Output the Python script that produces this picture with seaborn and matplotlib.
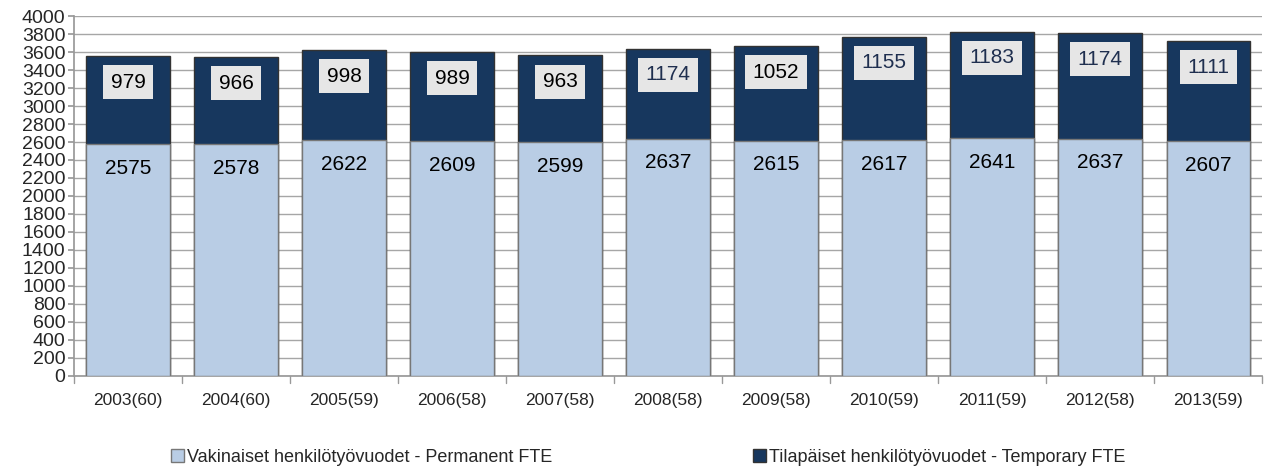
import matplotlib
matplotlib.use("Agg")
import matplotlib.pyplot as plt
import seaborn as sns
import numpy as np
import pandas as pd

categories = ["2003(60)", "2004(60)", "2005(59)", "2006(58)", "2007(58)", "2008(58)",
              "2009(58)", "2010(59)", "2011(59)", "2012(58)", "2013(59)"]
permanent = [2575, 2578, 2622, 2609, 2599, 2637, 2615, 2617, 2641, 2637, 2607]
# bar heights as drawn in the picture (2008 bar is drawn shorter than its label)
temporary = [979, 966, 998, 989, 963, 1000, 1052, 1155, 1183, 1174, 1111]
temporary_labels = ["979", "966", "998", "989", "963", "1174", "1052", "1155", "1183", "1174", "1111"]
perm_label = "Vakinaiset henkilötyövuodet - Permanent FTE"
temp_label = "Tilapäiset henkilötyövuodet - Temporary FTE"

light = "#b9cde5"
dark = "#17375e"

sns.set_theme(style="white")
plt.rcParams['font.family'] = ['Liberation Sans', 'DejaVu Sans']

df = pd.DataFrame({"cat": categories, "perm": permanent, "temp": temporary})
df["total"] = df["perm"] + df["temp"]

fig = plt.figure(figsize=(12.64, 4.68), dpi=100)
ax = fig.add_axes([0.0585, 0.1966, 0.94, 0.7692])

sns.barplot(data=df, x="cat", y="total", color=dark, saturation=1, width=0.77,
            edgecolor="#333333", linewidth=1.0, ax=ax, label=temp_label, zorder=2)
sns.barplot(data=df, x="cat", y="perm", color=light, saturation=1, width=0.77,
            edgecolor="#777777", linewidth=1.0, ax=ax, label=perm_label, zorder=3)
handles, labels = ax.get_legend_handles_labels()
if ax.get_legend() is not None:
    ax.get_legend().remove()

ax.set_ylim(0, 4000)
ax.set_xlim(-0.5, len(categories) - 0.5)
ax.set_yticks(np.arange(0, 4001, 200))
ax.yaxis.grid(True, color="#a6a6a6", linewidth=1.0, zorder=0)
ax.set_axisbelow(True)
for s in ["top", "right"]:
    ax.spines[s].set_visible(False)
ax.spines["left"].set_color("#999999")
ax.spines["bottom"].set_color("#999999")
ax.set_xlabel("")
ax.set_ylabel("")
ax.tick_params(axis="y", labelsize=14, pad=2, length=4, color="#999999", direction="out", left=True)
ax.tick_params(axis="x", labelsize=12.5, pad=12, length=0)

# category boundary ticks below axis
for b in np.arange(-0.5, len(categories), 1.0):
    ax.plot([b, b], [0, -80], color="#999999", lw=1, clip_on=False, zorder=1)

for i, (p, t, tl) in enumerate(zip(permanent, temporary, temporary_labels)):
    ax.text(i, p - 270, f"{p}", ha="center", va="center", fontsize=15, color="black", zorder=5)
    ax.text(i, p + t - 290, tl, ha="center", va="center", fontsize=15,
            color="black" if i < 5 or i == 6 else "#1f2f4f", zorder=5,
            bbox=dict(boxstyle="square,pad=0.36", facecolor="#e6e6e6", edgecolor="none"))

order = [labels.index(perm_label), labels.index(temp_label)]
fig.legend([handles[k] for k in order], [labels[k] for k in order],
           loc="lower center", bbox_to_anchor=(0.513, -0.03), ncol=2, frameon=False,
           fontsize=13, handlelength=0.7, handleheight=0.7, handletextpad=0.2,
           columnspacing=11.1)

fig.savefig("out.png", dpi=100)
